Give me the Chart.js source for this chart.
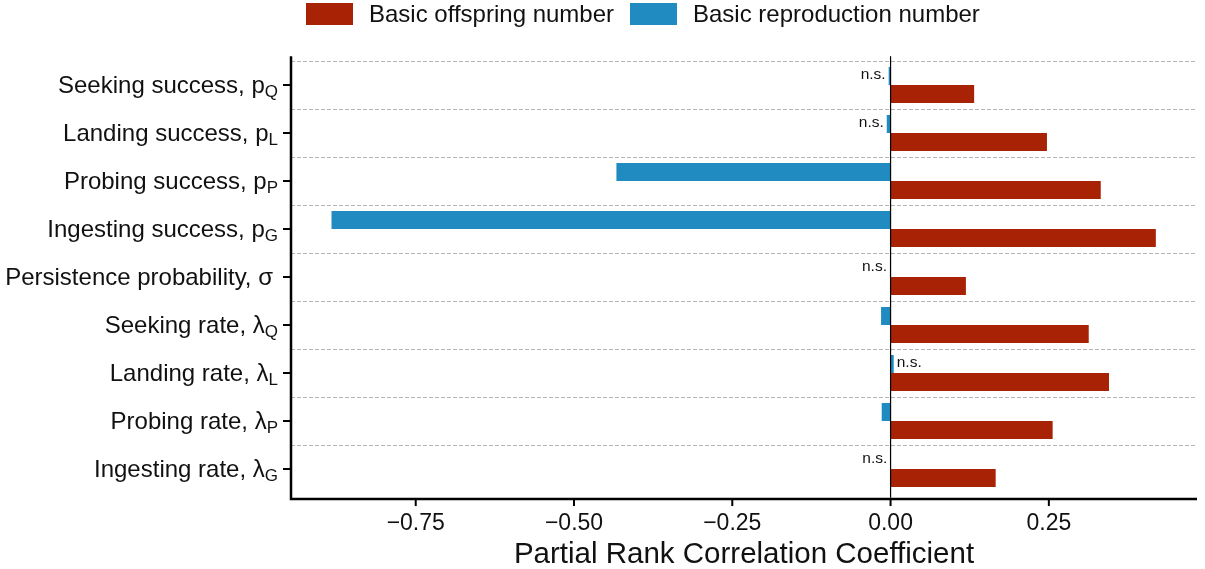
<!DOCTYPE html>
<html>
<head>
<meta charset="utf-8">
<script src="https://cdn.jsdelivr.net/npm/chart.js@4"></script>
<style>
  body { margin: 0; background: #fff; }
  canvas { display: block; }
</style>
</head>
<body>
<canvas id="myChart" width="1205" height="569"></canvas>
<script>
// parameters, top to bottom
const paramNames = ['Seeking success', 'Landing success', 'Probing success', 'Ingesting success',
  'Persistence probability', 'Seeking rate', 'Landing rate', 'Probing rate', 'Ingesting rate'];
const paramSymbols = ['p', 'p', 'p', 'p', 'σ', 'λ', 'λ', 'λ', 'λ'];
const paramSubs = ['Q', 'L', 'P', 'G', '', 'Q', 'L', 'P', 'G'];

// partial rank correlation coefficients
const offspringPRCC = [0.132, 0.247, 0.332, 0.419, 0.119, 0.313, 0.345, 0.256, 0.166];
const reproductionPRCC = [-0.003, -0.006, -0.433, -0.883, -0.001, -0.015, 0.005, -0.014, -0.0005];
const reproductionNS = [true, true, false, false, true, false, true, false, true];

const xTicks = [-0.75, -0.5, -0.25, 0, 0.25];
const xTickLabels = ['\u22120.75', '\u22120.50', '\u22120.25', '0.00', '0.25'];

const seriesNames = ['Basic offspring number', 'Basic reproduction number'];
const red = '#A82306';
const blue = '#1F8BC0';
const fam = '"Liberation Sans", Arial, Helvetica, sans-serif';

const decor = {
  id: 'decor',
  beforeDatasetsDraw(chart) {
    const c = chart.ctx, y = chart.scales.y, a = chart.chartArea;
    const step = y.getPixelForValue(1) - y.getPixelForValue(0);
    c.save();
    c.strokeStyle = '#B5B5B5';
    c.lineWidth = 1;
    c.setLineDash([4, 2]);
    for (let i = 0; i < paramNames.length; i++) {
      const py = Math.round(y.getPixelForValue(i) - step / 2) + 0.5;
      c.beginPath();
      c.moveTo(a.left, py);
      c.lineTo(a.right, py);
      c.stroke();
    }
    c.restore();
  },
  afterDraw(chart) {
    const c = chart.ctx, x = chart.scales.x, y = chart.scales.y, a = chart.chartArea;
    const step = y.getPixelForValue(1) - y.getPixelForValue(0);
    const ext = step * 0.1;
    c.save();

    // zero line
    const x0 = x.getPixelForValue(0);
    c.strokeStyle = '#000';
    c.lineWidth = 1.2;
    c.beginPath();
    c.moveTo(x0, a.top - ext);
    c.lineTo(x0, a.bottom + ext);
    c.stroke();

    // axis lines
    c.lineWidth = 2.5;
    c.beginPath();
    c.moveTo(a.left, a.top - ext);
    c.lineTo(a.left, a.bottom + ext + 1.25);
    c.lineTo(a.right, a.bottom + ext + 1.25);
    c.stroke();

    // y ticks and labels
    c.lineWidth = 2;
    c.fillStyle = '#111';
    c.textAlign = 'left';
    c.textBaseline = 'alphabetic';
    paramNames.forEach((name, i) => {
      const py = y.getPixelForValue(i);
      c.beginPath();
      c.moveTo(a.left - 8, py);
      c.lineTo(a.left, py);
      c.stroke();
      const main = name + ', ' + paramSymbols[i];
      c.font = '24px ' + fam;
      const mw = c.measureText(main).width;
      c.font = '17px ' + fam;
      const sw = paramSubs[i] ? c.measureText(paramSubs[i]).width : 0;
      const right = paramSubs[i] ? 278 : 273;
      const sx = right - mw - sw;
      c.font = '24px ' + fam;
      c.fillText(main, sx, py + 8);
      if (paramSubs[i]) {
        c.font = '17px ' + fam;
        c.fillText(paramSubs[i], sx + mw, py + 12);
      }
    });

    // x ticks and labels
    c.textAlign = 'center';
    c.font = '23px ' + fam;
    const axisY = a.bottom + ext + 1.25;
    xTicks.forEach((v, i) => {
      const px = x.getPixelForValue(v);
      c.beginPath();
      c.moveTo(px, axisY);
      c.lineTo(px, axisY + 7);
      c.stroke();
      c.fillText(xTickLabels[i], px, 530);
    });

    // axis title
    c.font = '29.5px ' + fam;
    c.fillText('Partial Rank Correlation Coefficient', (a.left + a.right) / 2, 563);

    // n.s. labels
    c.font = '15.5px ' + fam;
    c.textBaseline = 'middle';
    const meta = chart.getDatasetMeta(0);
    reproductionPRCC.forEach((v, i) => {
      if (!reproductionNS[i]) return;
      const bar = meta.data[i];
      if (v > 0) {
        c.textAlign = 'left';
        c.fillText('n.s.', bar.x + 3, bar.y - 1);
      } else {
        c.textAlign = 'right';
        c.fillText('n.s.', Math.min(bar.x, x0) - 3, bar.y - 1);
      }
    });

    // legend
    c.textAlign = 'left';
    c.textBaseline = 'alphabetic';
    c.font = '24px ' + fam;
    const legendX = [306, 630];
    [red, blue].forEach((col, i) => {
      c.fillStyle = col;
      c.fillRect(legendX[i], 3, 47, 22);
      c.fillStyle = '#111';
      c.fillText(seriesNames[i], legendX[i] + 63, 22);
    });
    c.restore();
  }
};

const ctx = document.getElementById('myChart').getContext('2d');
new Chart(ctx, {
  type: 'bar',
  data: {
    labels: paramNames,
    datasets: [{
      label: seriesNames[1],
      data: reproductionPRCC,
      backgroundColor: blue,
      borderWidth: 0
    }, {
      label: seriesNames[0],
      data: offspringPRCC,
      backgroundColor: red,
      borderWidth: 0
    }]
  },
  options: {
    indexAxis: 'y',
    responsive: false,
    animation: false,
    categoryPercentage: 0.75,
    barPercentage: 1.0,
    layout: { padding: { left: 291, right: 8, top: 61, bottom: 76 } },
    plugins: { legend: { display: false }, tooltip: { enabled: false } },
    scales: {
      x: { type: 'linear', min: -0.947, max: 0.484, display: false },
      y: { display: false }
    }
  },
  plugins: [decor]
});
</script>
</body>
</html>
